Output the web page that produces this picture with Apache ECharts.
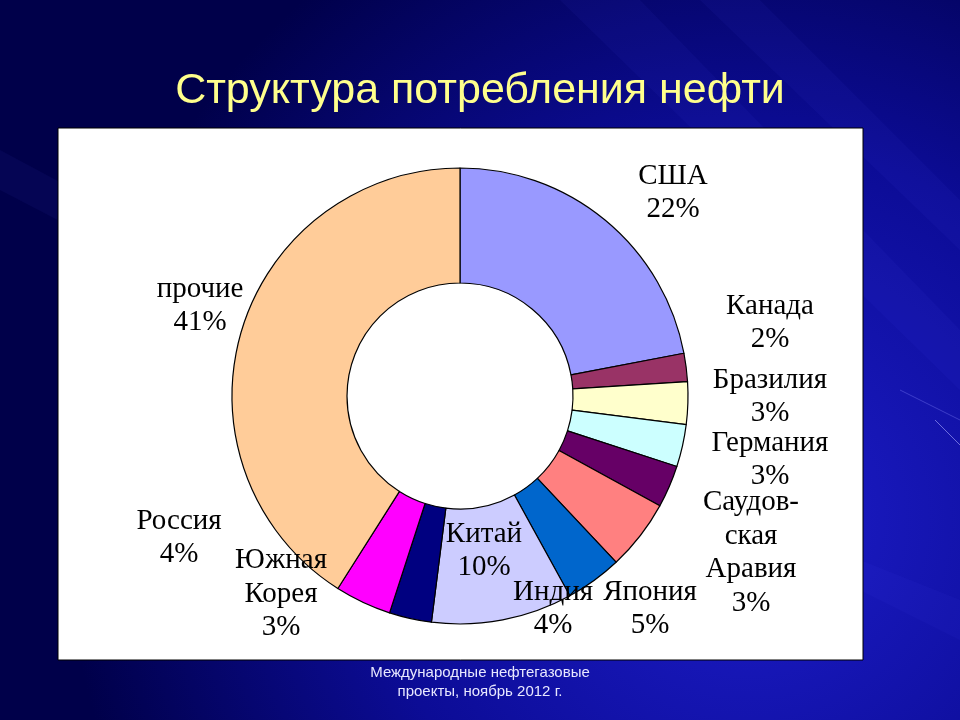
<!DOCTYPE html>
<html>
<head>
<meta charset="utf-8">
<script src="https://cdn.jsdelivr.net/npm/echarts@6/dist/echarts.min.js"></script>
<style>
html,body{margin:0;padding:0;background:#000050;}
#chart{width:960px;height:720px;}
</style>
</head>
<body>
<div id="chart"></div>
<script>
// ---- data ----
const categories = ['США', 'Канада', 'Бразилия', 'Германия', 'Саудов-\nская\nАравия', 'Япония', 'Индия', 'Китай', 'Южная\nКорея', 'Россия', 'прочие'];
const shares = [22, 2, 3, 3, 3, 5, 4, 10, 3, 4, 41];
const sliceColors = ['#9999FF', '#993366', '#FFFFCC', '#CCFFFF', '#660066', '#FF8080', '#0066CC', '#CCCCFF', '#000080', '#FF00FF', '#FFCC99'];
const titleText = 'Структура потребления нефти';
const footerText = 'Международные нефтегазовые\nпроекты, ноябрь 2012 г.';

// label block centres (layout, not data)
const labelPos = [
  [673, 193], [770, 323], [770, 397], [770, 460], [751, 553],
  [650, 609], [553, 609], [484, 551], [281, 594], [179, 538], [200, 306]
];

const chart = echarts.init(document.getElementById('chart'), null, {renderer: 'canvas'});

const streaks = [
  [[560,0],[640,0],[960,330],[960,390]],
  [[700,0],[760,0],[960,200],[960,250]],
  [[860,560],[960,600],[960,640],[860,590]],
  [[0,150],[0,190],[250,320],[280,300]]
];

const option = {
  animation: false,
  graphic: [
    {
      type: 'rect', z: -20, silent: true,
      shape: {x: 0, y: 0, width: 960, height: 720},
      style: {
        fill: new echarts.graphic.RadialGradient(0.78, 0.72, 0.95, [
          {offset: 0, color: '#1d1dca'},
          {offset: 0.55, color: '#0c0c96'},
          {offset: 1, color: '#00004a'}
        ])
      }
    },
    ...streaks.map(p => ({
      type: 'polygon', z: -19, silent: true,
      shape: {points: p},
      style: {fill: 'rgba(90,90,255,0.06)'}
    })),
    {
      type: 'line', z: -19, silent: true,
      shape: {x1: 935, y1: 420, x2: 960, y2: 445},
      style: {stroke: 'rgba(170,170,255,0.6)', lineWidth: 1}
    },
    {
      type: 'line', z: -19, silent: true,
      shape: {x1: 900, y1: 390, x2: 960, y2: 420},
      style: {stroke: 'rgba(140,140,255,0.35)', lineWidth: 1}
    },
    {
      type: 'rect', z: -10, silent: true,
      shape: {x: 58, y: 128, width: 805, height: 532},
      style: {fill: '#FFFFFF', stroke: '#000000', lineWidth: 1}
    },
    {
      type: 'text', z: 5, silent: true,
      x: 480, y: 682,
      style: {
        text: footerText,
        fontFamily: 'Liberation Sans, Arial, sans-serif',
        fontSize: 15,
        lineHeight: 19,
        fill: '#E8E8FF',
        align: 'center',
        verticalAlign: 'middle'
      }
    }
  ],
  title: {
    text: titleText,
    left: 'center',
    top: 65,
    textStyle: {fontFamily: 'Liberation Sans, Arial, sans-serif', fontSize: 43, fontWeight: 'normal', color: '#FFFF8C'}
  },
  series: [{
    type: 'pie',
    center: [460, 396],
    radius: [113, 228],
    startAngle: 90,
    clockwise: true,
    avoidLabelOverlap: false,
    silent: true,
    itemStyle: {borderColor: '#000000', borderWidth: 1.2},
    label: {
      show: true,
      position: 'outside',
      formatter: '{b}\n{c}%',
      fontFamily: 'Liberation Serif, Times New Roman, serif',
      fontSize: 29,
      lineHeight: 33.5,
      color: '#000000',
      align: 'center'
    },
    labelLine: {show: false},
    labelLayout: function (params) {
      const p = labelPos[params.dataIndex];
      return {x: p[0], y: p[1], align: 'center', verticalAlign: 'middle', hideOverlap: false, moveOverlap: null};
    },
    data: categories.map((c, i) => ({name: c, value: shares[i], itemStyle: {color: sliceColors[i]}}))
  }]
};
chart.setOption(option);
</script>
</body>
</html>
